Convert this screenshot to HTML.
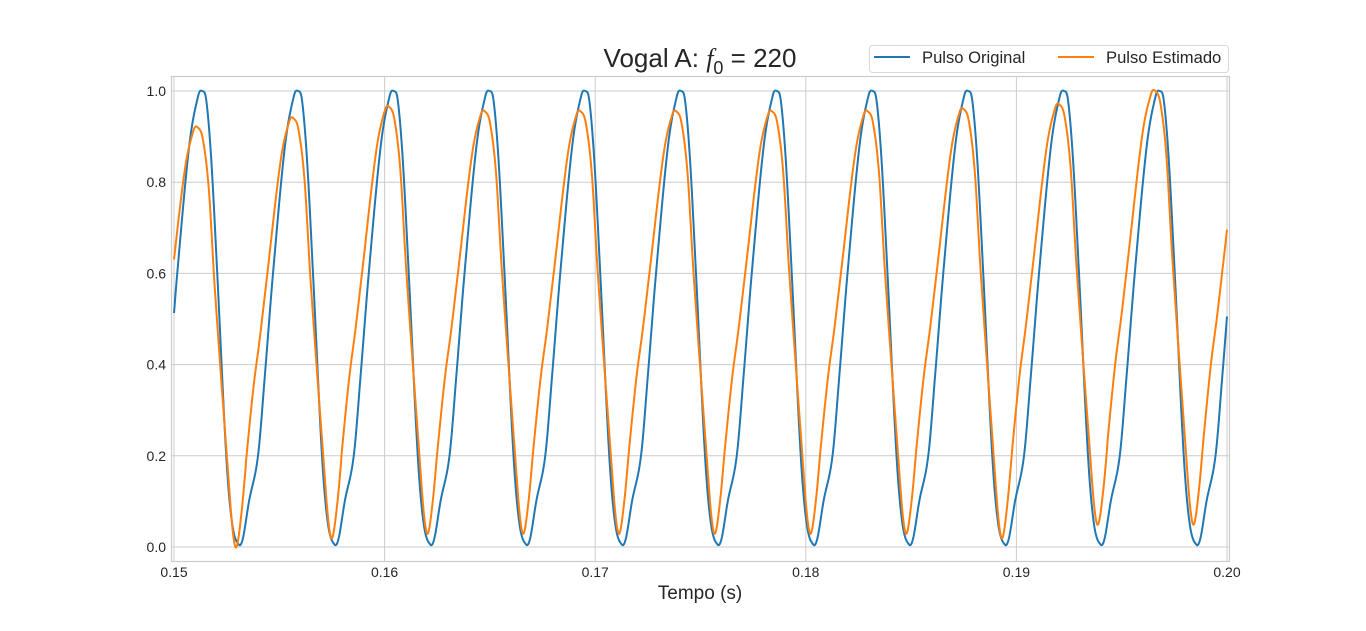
<!DOCTYPE html>
<html><head><meta charset="utf-8"><style>
html,body{margin:0;padding:0;background:#fff;}
svg{display:block;font-family:"Liberation Sans",sans-serif;}
</style></head><body>
<svg id="s" width="1366" height="631" viewBox="0 0 1366 631" xmlns="http://www.w3.org/2000/svg">
<rect width="1366" height="631" fill="#fff"/>
<g id="grid" stroke="#cccccc" stroke-width="1"></g>
<rect x="171.5" y="76.5" width="1058" height="485" fill="none" stroke="#cccccc" stroke-width="1.2"/>
<path id="pb" fill="none" stroke="#1f77b4" stroke-width="2"/>
<path id="po" fill="none" stroke="#ff7f0e" stroke-width="2"/>
<g id="lab" font-size="14" fill="#262626"></g>
<text x="700" y="67" font-size="26" text-anchor="middle" fill="#262626">Vogal A: <tspan font-family="Liberation Serif" font-style="italic">f</tspan><tspan font-size="18" dy="7">0</tspan><tspan dy="-7"> = 220</tspan></text>
<text x="700" y="599" font-size="19" text-anchor="middle" fill="#262626">Tempo (s)</text>
<rect x="869.5" y="45.5" width="359" height="27" rx="3" fill="#fff" stroke="#d8d8d8"/>
<line x1="874" y1="57" x2="910" y2="57" stroke="#1f77b4" stroke-width="2"/>
<text x="922" y="63" font-size="16.6" fill="#262626">Pulso Original</text>
<line x1="1058" y1="57" x2="1094" y2="57" stroke="#ff7f0e" stroke-width="2"/>
<text x="1106" y="63" font-size="16.6" fill="#262626">Pulso Estimado</text>
</svg>
<script>
var X0=174,X1=1227,Y0=547,Y1=91;
var g=document.getElementById('grid'),lab=document.getElementById('lab'),NS='http://www.w3.org/2000/svg';
function el(p,t,a,txt){var e=document.createElementNS(NS,t);for(var k in a)e.setAttribute(k,a[k]);if(txt)e.textContent=txt;p.appendChild(e);}
for(var i=0;i<=5;i++){var x=X0+(X1-X0)*i/5;el(g,'line',{x1:x,y1:77,x2:x,y2:561});el(lab,'text',{x:x,y:577,'text-anchor':'middle'},(0.15+i*0.01).toFixed(2));}
for(var i=0;i<=5;i++){var y=Y0+(Y1-Y0)*i/5;el(g,'line',{x1:172,y1:y,x2:1229,y2:y});el(lab,'text',{x:166,y:y+5,'text-anchor':'end'},(i*0.2).toFixed(1));}
var P=95.75;
var B=[[0,0.005],[4,0.02],[10,0.1],[19,0.2],[26,0.38],[34,0.6],[46,0.88],[55,0.99],[59,1.0],[63,0.98],[68,0.85],[74,0.6],[83,0.2],[89,0.05]];
var O=[[0,0.025],[5,0.1],[10,0.22],[17,0.37],[23,0.47],[30,0.6],[44,0.86],[53,0.95],[57,0.955],[62,0.93],[68,0.82],[74,0.6],[87,0.2],[92,0.06]];
var OPK=[0.92,0.94,0.965,0.955,0.955,0.955,0.955,0.955,0.96,0.97,1.0,1.0];
var OMN=[0.0,0.0,0.02,0.03,0.03,0.03,0.03,0.03,0.03,0.02,0.05,0.05,0.05];
function ev(pts,t){t=((t%P)+P)%P;var n=pts.length;
 var arr=[];for(var k=-1;k<=1;k++)for(var j=0;j<n;j++)arr.push([pts[j][0]+k*P,pts[j][1]]);
 for(var i=0;i<arr.length-1;i++){if(t>=arr[i][0]&&t<arr[i+1][0]){var p0=arr[i-1],p1=arr[i],p2=arr[i+1],p3=arr[i+2];var h=p2[0]-p1[0];var s=(t-p1[0])/h;
 var m1=(p2[1]-p0[1])/(p2[0]-p0[0])*h,m2=(p3[1]-p1[1])/(p3[0]-p1[0])*h;var s2=s*s,s3=s2*s;
 return (2*s3-3*s2+1)*p1[1]+(s3-2*s2+s)*m1+(-2*s3+3*s2)*p2[1]+(s3-s2)*m2;}}return 0;}
function lerpArr(a,f){f=Math.max(0,Math.min(a.length-1,f));var i=Math.floor(f);if(i>=a.length-1)return a[a.length-1];var r=f-i;return a[i]*(1-r)+a[i+1]*r;}
function path(pts,off,pk,mn){var d='';for(var x=X0;x<=X1;x+=0.5){var v=ev(pts,x-off);
 if(pk){var tt=x-off;var c=Math.round((tt-57)/P)+1;c=Math.max(0,Math.min(pk.length-1,c));
  var lo=lerpArr(mn,tt/P+1);v=lo+(v-0.025)*(pk[c]-lo)/(0.955-0.025);}
 d+=(x==X0?'M':'L')+x.toFixed(1)+','+(Y0+(Y1-Y0)*v).toFixed(1);}return d;}
document.getElementById('pb').setAttribute('d',path(B,239));
document.getElementById('po').setAttribute('d',path(O,236.5,OPK,OMN));
</script>
</body></html>
